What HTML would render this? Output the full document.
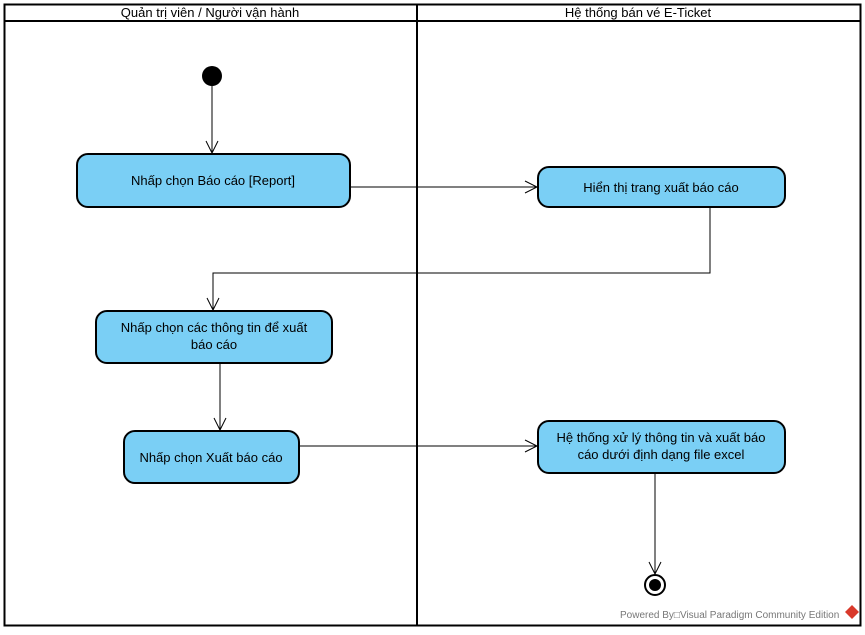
<!DOCTYPE html>
<html><head><meta charset="utf-8"><style>
body{margin:0;background:#fff;}
svg text{font-family:"Liberation Sans","DejaVu Sans",sans-serif;}
</style></head><body>
<svg width="865" height="630" xmlns="http://www.w3.org/2000/svg">
<rect x="0" y="0" width="865" height="630" fill="#fff"/>
<rect x="4.5" y="4.5" width="856" height="621" fill="none" stroke="#000" stroke-width="2"/>
<line x1="4" y1="21" x2="861" y2="21" stroke="#000" stroke-width="2"/>
<line x1="417" y1="4" x2="417" y2="626" stroke="#000" stroke-width="2"/>
<text x="210" y="17" font-size="13" text-anchor="middle">Quản trị viên / Người vận hành</text>
<text x="638" y="17" font-size="13" text-anchor="middle">Hệ thống bán vé E-Ticket</text>
<g fill="none" stroke="#000" stroke-width="1">
<line x1="212" y1="86" x2="212" y2="153"/><polyline points="206,141 212,153 218,141"/>
<line x1="350" y1="187" x2="537" y2="187"/><polyline points="525,181 537,187 525,193"/>
<polyline points="710,207 710,273 213,273 213,310"/><polyline points="207,298 213,310 219,298"/>
<line x1="220" y1="363" x2="220" y2="430"/><polyline points="214,418 220,430 226,418"/>
<line x1="299" y1="446" x2="537" y2="446"/><polyline points="525,440 537,446 525,452"/>
<line x1="655" y1="473" x2="655" y2="574"/><polyline points="649,562 655,574 661,562"/>
</g>
<circle cx="212" cy="76" r="10" fill="#000"/>
<circle cx="655" cy="585" r="10" fill="#fff" stroke="#000" stroke-width="2"/>
<circle cx="655" cy="585" r="6" fill="#000"/>
<g fill="#7acff5" stroke="#000" stroke-width="2">
<rect x="77" y="154" width="273" height="53" rx="11"/>
<rect x="538" y="167" width="247" height="40" rx="11"/>
<rect x="96" y="311" width="236" height="52" rx="11"/>
<rect x="124" y="431" width="175" height="52" rx="11"/>
<rect x="538" y="421" width="247" height="52" rx="11"/>
</g>
<g font-size="13" text-anchor="middle" fill="#000">
<text x="213" y="185">Nhấp chọn Báo cáo [Report]</text>
<text x="661" y="192">Hiển thị trang xuất báo cáo</text>
<text x="214" y="332">Nhấp chọn các thông tin để xuất</text>
<text x="214" y="349">báo cáo</text>
<text x="211" y="462">Nhấp chọn Xuất báo cáo</text>
<text x="661" y="442">Hệ thống xử lý thông tin và xuất báo</text>
<text x="661" y="459">cáo dưới định dạng file excel</text>
</g>
<text x="620" y="618" font-size="10" fill="#777">Powered By□Visual Paradigm Community Edition</text>
<path d="M852 605 L859 612 L852 619 L845 612 Z" fill="#d9392b"/>
</svg>
</body></html>
